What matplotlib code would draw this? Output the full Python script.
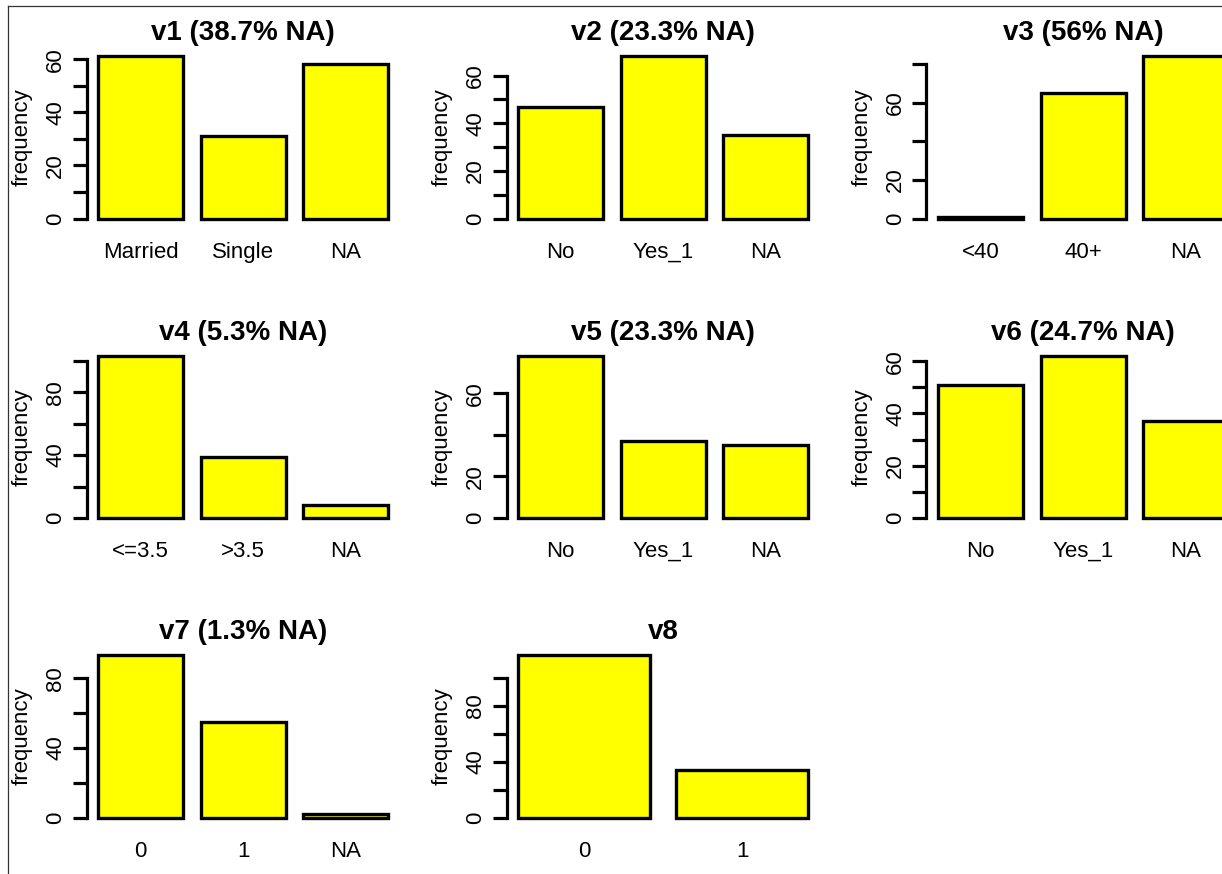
import matplotlib
matplotlib.use("Agg")
import matplotlib.pyplot as plt
from matplotlib.lines import Line2D

plt.rcParams['font.family'] = ['Liberation Sans', 'DejaVu Sans']

# data: one panel per variable, counts per category (150 rows each)
titles = ['v1 (38.7% NA)', 'v2 (23.3% NA)', 'v3 (56% NA)', 'v4 (5.3% NA)',
          'v5 (23.3% NA)', 'v6 (24.7% NA)', 'v7 (1.3% NA)', 'v8']
categories = [['Married', 'Single', 'NA'],
              ['No', 'Yes_1', 'NA'],
              ['<40', '40+', 'NA'],
              ['<=3.5', '>3.5', 'NA'],
              ['No', 'Yes_1', 'NA'],
              ['No', 'Yes_1', 'NA'],
              ['0', '1', 'NA'],
              ['0', '1']]
counts = [[61, 31, 58],
          [47, 68, 35],
          [1, 65, 84],
          [103, 39, 8],
          [78, 37, 35],
          [51, 62, 37],
          [93, 55, 2],
          [116, 34]]
y_ticks = [[0, 10, 20, 30, 40, 50, 60],
           [0, 10, 20, 30, 40, 50, 60],
           [0, 20, 40, 60, 80],
           [0, 20, 40, 60, 80, 100],
           [0, 20, 40, 60],
           [0, 10, 20, 30, 40, 50, 60],
           [0, 20, 40, 60, 80],
           [0, 20, 40, 60, 80, 100]]
y_shown = [[0, 20, 40, 60],
           [0, 20, 40, 60],
           [0, 20, 60],
           [0, 40, 80],
           [0, 20, 60],
           [0, 20, 40, 60],
           [0, 40, 80],
           [0, 40, 80]]

W, H = 1222, 874
fig = plt.figure(figsize=(W / 100, H / 100), dpi=100)

# thin frame of the screenshot
fig.add_artist(Line2D([8 / W, 8 / W], [0, 1 - 6 / H], transform=fig.transFigure,
                      color='#333333', lw=0.9))
fig.add_artist(Line2D([8 / W, 1], [1 - 6 / H, 1 - 6 / H], transform=fig.transFigure,
                      color='#333333', lw=0.9))

pw, ph = 313.5, 175
for i in range(len(titles)):
    r, c = divmod(i, 3)
    left = 86.5 + 420 * c
    top = 50 + 299.5 * r
    ax = fig.add_axes([left / W, 1 - (top + ph) / H, pw / W, ph / H])

    vals = counts[i]
    n = len(vals)
    xs = [0.7 + 1.2 * k for k in range(n)]
    ax.bar(xs, vals, width=1, color='#FFFF00', edgecolor='black', linewidth=2.4)

    x_lo, x_hi = 0.2, 1.2 * n
    ext = 0.04 * (x_hi - x_lo)
    ax.set_xlim(x_lo - ext, x_hi + ext)
    ymax = max(vals)
    ax.set_ylim(-0.04 * ymax, 1.04 * ymax)

    for s in ['top', 'right', 'bottom']:
        ax.spines[s].set_visible(False)
    ax.spines['left'].set_linewidth(2.3)
    ax.spines['left'].set_bounds(y_ticks[i][0], y_ticks[i][-1])

    ax.set_xticks(xs)
    ax.set_xticklabels(categories[i], fontsize=16)
    ax.tick_params(axis='x', length=0, pad=12)

    ax.set_yticks(y_ticks[i])
    ax.set_yticklabels([str(t) if t in y_shown[i] else '' for t in y_ticks[i]],
                       rotation=90, va='center', fontsize=16)
    ax.tick_params(axis='y', length=10, width=2.3, pad=4.5)

    ax.text(-64.5 / pw, 0.5, 'frequency', transform=ax.transAxes, rotation=90,
            ha='center', va='center', fontsize=16)
    ax.annotate(titles[i], xy=(0.5, 1), xycoords='axes fraction',
                xytext=(0, 12), textcoords='offset points',
                ha='center', va='center', fontsize=20, fontweight='bold')

fig.savefig('out.png', dpi=100)
